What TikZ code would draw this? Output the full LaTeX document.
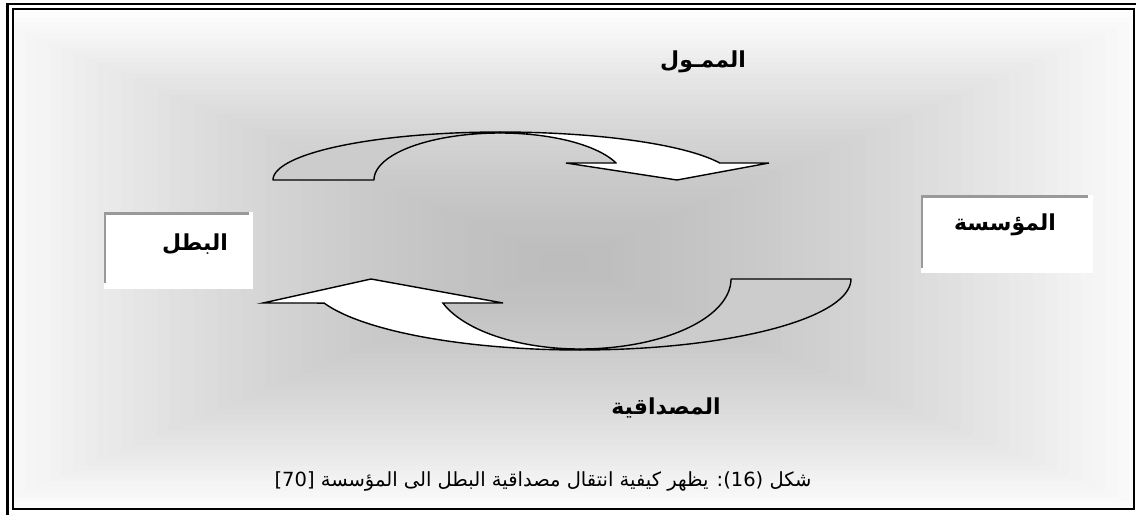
\documentclass[tikz,border=0pt]{standalone}
\usepackage{fontspec}
\setmainfont{Liberation Sans}
\newfontfamily\arabicfont[Script=Arabic]{DejaVu Sans}
\TeXXeTstate=1
\definecolor{tailgray}{HTML}{CCCCCC}
\definecolor{edgegray}{HTML}{999999}
\tikzset{
  frameout/.style={line width=2.6pt, black},
  framein/.style={line width=2pt, black},
  ribbonback/.style={fill=tailgray, draw=black, line width=1.4pt, line join=round},
  ribbonfront/.style={fill=white, draw=black, line width=1.4pt, line join=miter},
  boxedge/.style={draw=edgegray, line width=2.6pt},
  lbl/.style={font=\arabicfont\bfseries\fontsize{22}{24}\selectfont, inner sep=0pt},
  captext/.style={font=\arabicfont\fontsize{19.5}{22}\selectfont, inner sep=0pt}
}
\begin{document}
\begin{tikzpicture}[x=1pt,y=-1pt]
\useasboundingbox (0,0) rectangle (1136,515);
\fill[white] (0,0) rectangle (1136,515);
% background gradient (stepped rectangles, from the centre outwards)
\begin{scope}
  \clip (13,9) rectangle (1134,509);
  \foreach \i in {0,...,49} {
    \pgfmathsetmacro\f{1.0-\i*0.02}
    \pgfmathsetmacro\pk{max(0,(66-66*(\f^1.5))/2.55)}
    \pgfmathsetmacro\rx{600*\f}
    \pgfmathsetmacro\ry{255*\f}
    \fill[black!\pk] (565-\rx,262-\ry) rectangle (565+\rx,262+\ry);
  }
\end{scope}
% frame
\draw[frameout] (7.5,515) -- (7.5,4) -- (1136,4);
\draw[framein] (13,9) rectangle (1134,509);
% top curved arrow
\filldraw[ribbonback] (273,180) -- plot[domain=180:90, samples=50] ({500+227*cos(\x)},{180-48*sin(\x)})
  -- plot[domain=90:180, samples=50] ({500+126*cos(\x)},{180-47*sin(\x)}) -- cycle;
\filldraw[ribbonfront] plot[domain=90:20.7, samples=50] ({500+235*cos(\x)},{180-48*sin(\x)})
  -- (769,163) -- (677,180) -- (566,163) -- (616,163)
  -- plot[domain=21.3:90, samples=50] ({500+124.5*cos(\x)},{180-47*sin(\x)}) -- cycle;
% bottom curved arrow
\filldraw[ribbonback] (731,279) -- (851,279)
  -- plot[domain=0:90, samples=50] ({580+271*cos(\x)},{279+71*sin(\x)})
  -- plot[domain=90:0, samples=50] ({580+151*cos(\x)},{279+70*sin(\x)}) -- cycle;
\filldraw[ribbonfront] plot[domain=90:160.2, samples=50] ({580+272*cos(\x)},{279+71*sin(\x)})
  -- (263,303) -- (371,279) -- (503,303) -- (443,303)
  -- plot[domain=159.95:90, samples=50] ({580+146*cos(\x)},{279+70*sin(\x)}) -- cycle;
% label boxes
\fill[white] (104,212) rectangle (253,289);
\draw[boxedge] (105,283) -- (105,213.3) -- (249,213.3);
\fill[white] (921,195) rectangle (1093,273);
\draw[boxedge] (922,268) -- (922,196.3) -- (1088,196.3);
% labels
\node[lbl] (batal) at (195,244) {البطل};
\node[lbl] (muassasa) at (1005,225) {المؤسسة};
\node[lbl] (mumawwil) at (703,62) {الممـول};
\node[lbl] (misdaqiya) at (666,408) {المصداقية};
\node[captext] (caption) at (543,481) {\beginR شكل \beginL(16)\endL: يظهر كيفية انتقال مصداقية البطل الى المؤسسة \beginL[70]\endL\endR};
\end{tikzpicture}
\end{document}
